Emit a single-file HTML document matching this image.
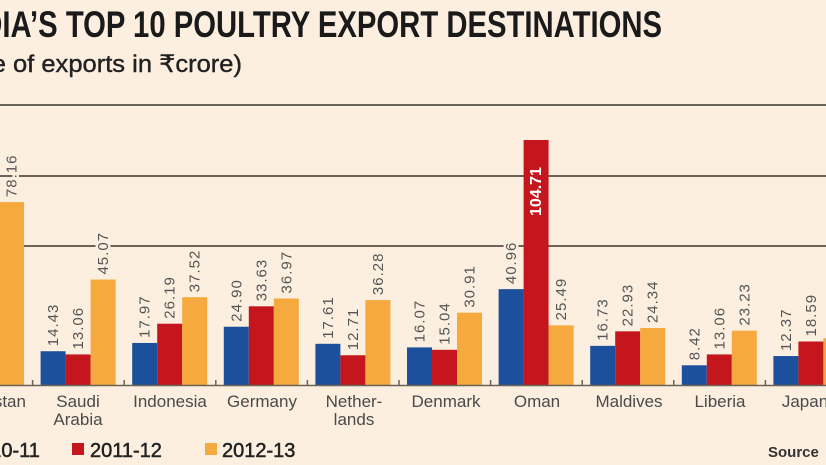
<!DOCTYPE html>
<html><head><meta charset="utf-8"><style>
html,body{margin:0;padding:0;background:#fcefe0;}
svg{display:block;}
</style></head><body>
<svg id="s" width="826" height="465" viewBox="0 0 826 465" xmlns="http://www.w3.org/2000/svg" font-family="'Liberation Sans', 'DejaVu Sans', sans-serif">
<rect width="826" height="465" fill="#fcefe0"/>
<text x="-48" y="37" font-size="37" font-weight="bold" fill="#1a1a1a" textLength="710" lengthAdjust="spacingAndGlyphs">INDIA’S TOP 10 POULTRY EXPORT DESTINATIONS</text>
<text x="-66" y="72" font-size="24" fill="#222" stroke="#222" stroke-width="0.4" textLength="308" lengthAdjust="spacingAndGlyphs">(Value of exports in ₹crore)</text>
<g stroke="#6b6257" stroke-width="2">
<line x1="0" y1="105" x2="826" y2="105"/>
<line x1="0" y1="176" x2="826" y2="176"/>
<line x1="0" y1="246" x2="826" y2="246"/>
</g>
<g id="bars"></g>
<line x1="0" y1="385.5" x2="826" y2="385.5" stroke="#6b6257" stroke-width="1.5"/>
<g font-size="17" fill="#4a4a4a" text-anchor="middle">
<text x="8" y="407">istan</text>
<text x="78" y="407">Saudi</text><text x="78" y="425">Arabia</text>
<text x="170" y="407">Indonesia</text>
<text x="262" y="407">Germany</text>
<text x="354" y="407">Nether-</text><text x="354" y="425">lands</text>
<text x="446" y="407">Denmark</text>
<text x="537" y="407">Oman</text>
<text x="629" y="407">Maldives</text>
<text x="720" y="407">Liberia</text>
<text x="805" y="407">Japan</text>
</g>
<g font-size="20" fill="#222" stroke="#222" stroke-width="0.5">
<text x="-32" y="457">2010-11</text>
<rect x="72" y="443" width="12" height="12" fill="#c4161c" stroke="none"/>
<text x="90" y="457">2011-12</text>
<rect x="205" y="443" width="12" height="12" fill="#f5a93e" stroke="none"/>
<text x="222" y="457">2012-13</text>
</g>
<text x="768" y="457" font-size="15" font-weight="bold" fill="#333">Source</text>
</svg>
<script>
var data=[["",0,0,78.16],["",14.43,13.06,45.07],["",17.97,26.19,37.52],["",24.90,33.63,36.97],["",17.61,12.71,36.28],["",16.07,15.04,30.91],["",40.96,104.71,25.49],["",16.73,22.93,24.34],["",8.42,13.06,23.23],["",12.37,18.59,20]];
var cols=["#1c4f9c","#c4161c","#f5a93e"];
var g=document.getElementById("bars"),h="";
var base=385,k=2.34,w=25,pitch=91.6,x0=-51;
for(var i=0;i<data.length;i++){
 var gx=x0+i*pitch;
 if(i>0) h+='<line x1="'+(gx-8)+'" y1="'+(base-5)+'" x2="'+(gx-8)+'" y2="'+base+'" stroke="#6b6257" stroke-width="1.5"/>';
 for(var j=0;j<3;j++){
  var v=data[i][j+1]; if(i==0&&j<2) continue;
  var bx=gx+j*w, bh=v*k, by=base-bh;
  h+='<rect x="'+bx+'" y="'+by+'" width="'+w+'" height="'+bh+'" fill="'+cols[j]+'"/>';
  if(i==9&&j==2) continue;
  var lbl=v.toFixed(2), cx=bx+w/2+5;
  if(i==6&&j==1){
   h+='<text transform="translate('+cx+','+(by+76)+') rotate(-90)" font-size="16" font-weight="bold" fill="#fff">'+lbl+'</text>';
  } else {
   h+='<text transform="translate('+cx+','+(by-5)+') rotate(-90)" font-size="15" fill="#555" stroke="#fcefe0" stroke-width="5" paint-order="stroke" letter-spacing="1">'+lbl+'</text>';
  }
 }
}
g.innerHTML=h;
</script>
</body></html>
